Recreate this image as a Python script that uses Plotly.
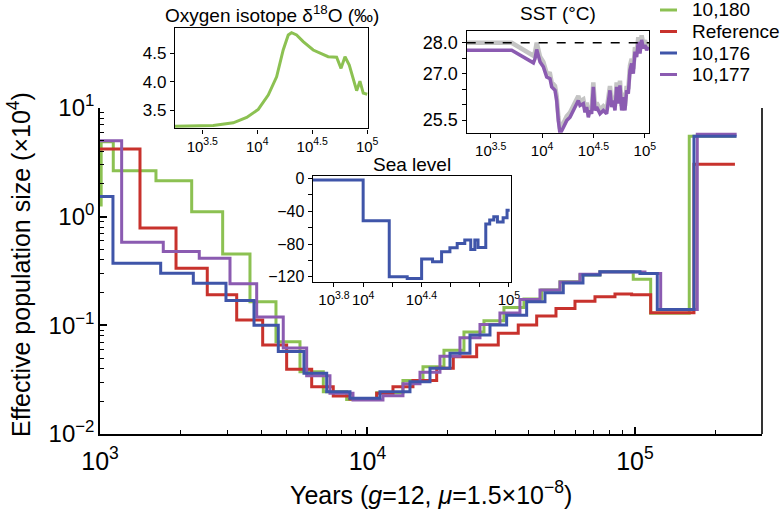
import plotly.graph_objects as go

# ---------------- data ----------------
# main panel: step start times (years) and effective population size (x10^4)
green_t = [900, 1010, 1121, 1619, 2202, 2875, 3637, 4549, 5593, 6837, 8360, 10824, 13572, 16126,
           19320, 22948, 27260, 32374, 38459, 44800, 52443, 62300, 73990, 98540, 114500, 159600, 238600]
green_ne = [1.28, 4.89, 2.64, 2.14, 1.11, 0.453, 0.165, 0.0706, 0.0374, 0.0245, 0.0208, 0.024, 0.031, 0.0415,
            0.059, 0.087, 0.110, 0.146, 0.175, 0.211, 0.252, 0.290, 0.311, 0.265, 0.129, 5.5, 5.5]

red_t = [1000, 1411, 1924, 2518, 3244, 4057, 4987, 6186, 7449, 8601, 10824, 12454, 14793, 18145,
         20934, 25600, 30832, 36617, 42914, 50672, 59677, 70878, 84200, 97170, 114500, 166200, 236500]
red_ne = [4.19, 0.785, 0.336, 0.191, 0.112, 0.066, 0.0394, 0.0272, 0.0224, 0.021, 0.0237, 0.0272, 0.031, 0.0402,
          0.0514, 0.0659, 0.0844, 0.1007, 0.122, 0.143, 0.167, 0.183, 0.194, 0.191, 0.1306, 3.03, 3.03]

blue_t = [1000, 1118, 1686, 2233, 2958, 3765, 4640, 5789, 7040, 8601, 11134, 14417, 17128, 20345,
          24168, 28708, 33136, 39364, 46094, 53951, 63925, 73990, 104400, 121200, 166200, 240000]
blue_ne = [1.53, 0.373, 0.302, 0.244, 0.169, 0.1, 0.0575, 0.0362, 0.0245, 0.0213, 0.0245, 0.0303, 0.0402, 0.0553,
           0.0815, 0.1007, 0.124, 0.165, 0.199, 0.245, 0.290, 0.311, 0.300, 0.140, 5.51, 5.51]

purple_t = [1000, 1205, 1724, 2350, 3062, 3853, 4843, 5925, 7240, 8828, 11425, 13572, 15716, 18666,
            22173, 26340, 31278, 37158, 44154, 52443, 62300, 73990, 109000, 124800, 171000, 240000]
purple_ne = [5.0, 0.58, 0.478, 0.415, 0.241, 0.119, 0.0617, 0.0343, 0.0237, 0.0206, 0.0225, 0.029, 0.037, 0.052,
             0.077, 0.102, 0.13, 0.173, 0.211, 0.250, 0.295, 0.310, 0.300, 0.140, 5.72, 5.72]

series_names = ["10,180", "Reference", "10,176", "10,177"]

# inset: oxygen isotope
oxy_t = [1786, 3981, 6053, 8017, 10210, 12590, 15000, 17220, 19140, 20510, 22800, 26180, 32280, 37150,
         44160, 52720, 57800, 62810, 68700, 80170, 85900, 92000, 100000]
oxy_v = [3.218, 3.23, 3.276, 3.371, 3.512, 3.765, 4.087, 4.558, 4.823, 4.863, 4.823, 4.705, 4.558, 4.511,
         4.44, 4.43, 4.235, 4.44, 4.294, 3.842, 4.01, 3.80, 3.78]

# inset: SST (purple) and grey reference curve
sst_t = [1845, 5058, 8225, 8535, 8853, 9550, 10280, 11075, 11930, 12390, 13350, 13860, 14380, 14940, 16100,
         17340, 18680, 20130, 21690, 22500, 23370, 25180, 26140, 27130, 28160, 29230, 30340, 31490, 32690,
         33930, 36560, 39400, 42450, 45740, 47490, 49290, 51170, 53110, 55130, 57230, 59400, 61660, 64010,
         66440, 68970, 71590, 74310, 77140, 80080, 83120, 86280, 89570, 92970, 96510, 100200, 104000, 107900]
sst_purple = [27.76, 27.76, 27.35, 27.49, 27.78, 27.38, 27.22, 26.89, 26.84, 26.57, 26.46, 26.13, 25.48, 25.05,
              25.26, 25.48, 25.59, 25.81, 26.03, 26.13, 25.97, 26.03, 25.75, 25.92, 25.59, 25.81, 25.70, 26.57,
              25.81, 25.92, 25.70, 25.81, 25.70, 26.46, 25.92, 26.13, 25.81, 26.57, 26.03, 26.62, 25.81, 26.24,
              25.81, 26.46, 26.35, 27.11, 27.33, 27.0, 27.71, 27.54, 28.03, 27.65, 28.09, 27.82, 27.93, 27.76,
              27.87]
sst_grey = [28.0, 28.0, 27.58, 27.7, 28.0, 27.55, 27.38, 27.02, 27.0, 26.72, 26.6, 26.28, 25.62, 25.2,
            25.4, 25.62, 25.74, 25.95, 26.18, 26.28, 26.1, 26.17, 25.9, 26.06, 25.74, 25.95, 25.84, 26.72,
            25.95, 26.06, 25.84, 25.95, 25.84, 26.6, 26.06, 26.28, 25.95, 26.72, 26.17, 26.77, 25.95, 26.38,
            25.95, 26.6, 26.5, 27.26, 27.48, 27.15, 27.86, 27.69, 28.18, 27.8, 28.24, 27.97, 28.08, 27.9,
            28.0]
sst_ref = 28.0

# inset: sea level (m)
sea_t = [4508, 10000, 15100, 20050, 25180, 29920, 34510, 39360, 44160, 49770, 54700, 58340, 61380, 69340,
         73790, 78700, 83370, 91200, 97050, 101150]
sea_v = [-2, -51.7, -120, -122, -98.4, -101.6, -89.5, -84.6, -79.3, -75.2, -86.6, -75.2, -84.2, -55.7,
         -50.8, -46.8, -53, -48, -38.7, -38.7]

# tick labels
main_x_ticks = [1e3, 1e4, 1e5]
main_x_text = ["10<sup>3</sup>", "10<sup>4</sup>", "10<sup>5</sup>"]
main_y_ticks = [0.01, 0.1, 1, 10]
main_y_text = ["10<sup>−2</sup>", "10<sup>−1</sup>", "10<sup>0</sup>", "10<sup>1</sup>"]
main_x_minor = [m * 10 ** e for e in (3, 4, 5) for m in range(2, 10) if m * 10 ** e < 3e5]
main_y_minor = [m * 10.0 ** e for e in (-2, -1, 0) for m in range(2, 10)]
inset_x_ticks = [10 ** 3.5, 1e4, 10 ** 4.5, 1e5]
inset_x_text = ["10<sup>3.5</sup>", "10<sup>4</sup>", "10<sup>4.5</sup>", "10<sup>5</sup>"]
sea_x_ticks = [10 ** 3.8, 1e4, 10 ** 4.2, 10 ** 4.4, 10 ** 4.6, 10 ** 4.8, 1e5]
sea_x_text = ["10<sup>3.8</sup>", "10<sup>4</sup>", "", "10<sup>4.4</sup>", "", "", "10<sup>5</sup>"]

# ---------------- styling ----------------
FONT = "Liberation Sans, Arial, Helvetica, sans-serif"
GREEN = "#8cc152"
RED = "#c8322d"
BLUE = "#3f55a9"
PURPLE = "#8b5bb1"
GREY = "#c4c4c4"
W, H = 781, 518

fig = go.Figure()


def add_line(t, v, color, xa="x", ya="y", width=3.0, shape="hv", name=None):
    fig.add_trace(go.Scatter(
        x=t, y=v, mode="lines", name=name, showlegend=False,
        line=dict(color=color, width=width, shape=shape),
        xaxis=xa, yaxis=ya, hoverinfo="skip"))


# main panel (drawing order green, red, purple, blue)
add_line(green_t, green_ne, GREEN, name=series_names[0])
add_line(red_t, red_ne, RED, name=series_names[1])
add_line(purple_t, purple_ne, PURPLE, name=series_names[3])
add_line(blue_t, blue_ne, BLUE, name=series_names[2])

# insets
add_line(oxy_t, oxy_v, GREEN, xa="x2", ya="y2", width=3.0, shape="linear")
add_line(sst_t, sst_grey, GREY, xa="x3", ya="y3", width=4.5, shape="linear")
add_line(sst_t, sst_purple, PURPLE, xa="x3", ya="y3", width=3.5, shape="linear")
add_line(sea_t, sea_v, BLUE, xa="x4", ya="y4", width=3.0, shape="hv")


def px_dom_x(a, b):
    return [a / W, b / W]


def px_dom_y(top, bottom):
    return [(H - bottom) / H, (H - top) / H]


axis_common = dict(showgrid=False, zeroline=False, showline=True, linecolor="black",
                   tickcolor="black", color="black", automargin=False, tickangle=0)

fig.update_layout(
    width=W, height=H,
    margin=dict(l=0, r=0, t=0, b=0, autoexpand=False),
    paper_bgcolor="white", plot_bgcolor="rgba(0,0,0,0)",
    font=dict(family=FONT, color="black"),
    showlegend=False,
    xaxis=dict(**axis_common, type="log", range=[3, 5.475], domain=px_dom_x(100, 762), anchor="y",
               linewidth=1.6, ticks="inside", ticklen=7, tickwidth=1.5,
               tickmode="array", tickvals=main_x_ticks, ticktext=main_x_text,
               tickfont=dict(size=25), ticklabelstandoff=4,
               minor=dict(ticks="inside", ticklen=4, tickwidth=1.2, tickmode="array",
                          tickvals=main_x_minor, showgrid=False)),
    yaxis=dict(**axis_common, type="log", range=[-2, 1], domain=px_dom_y(108, 434), anchor="x",
               linewidth=1.6, ticks="inside", ticklen=7, tickwidth=1.5,
               tickmode="array", tickvals=main_y_ticks, ticktext=main_y_text,
               tickfont=dict(size=24), ticklabelstandoff=-1,
               minor=dict(ticks="inside", ticklen=4, tickwidth=1.2, tickmode="array",
                          tickvals=main_y_minor, showgrid=False)),
    # oxygen isotope inset
    xaxis2=dict(**axis_common, type="log", range=[3.252, 5.01], domain=px_dom_x(175, 368.3), anchor="y2",
                mirror=True, linewidth=1.4, ticks="outside", ticklen=4, tickwidth=1.2,
                tickmode="array", tickvals=inset_x_ticks, ticktext=inset_x_text, tickfont=dict(size=15)),
    yaxis2=dict(**axis_common, range=[3.18, 4.94], domain=px_dom_y(28.3, 128.3), anchor="x2",
                mirror=True, linewidth=1.4, ticks="outside", ticklen=4, tickwidth=1.2,
                tickmode="array", tickvals=[3.5, 4.0, 4.5], ticktext=["3.5", "4.0", "4.5"],
                tickfont=dict(size=17)),
    # SST inset
    xaxis3=dict(**axis_common, type="log", range=[3.266, 5.043], domain=px_dom_x(466.7, 649.3), anchor="y3",
                mirror=True, linewidth=1.4, ticks="outside", ticklen=4, tickwidth=1.2,
                tickmode="array", tickvals=inset_x_ticks, ticktext=inset_x_text, tickfont=dict(size=15)),
    yaxis3=dict(**axis_common, range=[25.09, 28.38], domain=px_dom_y(31, 132.7), anchor="x3",
                mirror=True, linewidth=1.4, ticks="outside", ticklen=4, tickwidth=1.2,
                tickmode="array", tickvals=[25.5, 26.0, 26.5, 27.0, 27.5, 28.0],
                ticktext=["25.5", "", "", "27.0", "", "28.0"], tickfont=dict(size=18)),
    # sea level inset
    xaxis4=dict(**axis_common, type="log", range=[3.654, 5.012], domain=px_dom_x(312.7, 510.7), anchor="y4",
                mirror=True, linewidth=1.4, ticks="outside", ticklen=4, tickwidth=1.2,
                tickmode="array", tickvals=sea_x_ticks, ticktext=sea_x_text, tickfont=dict(size=15)),
    yaxis4=dict(**axis_common, range=[-126, 3], domain=px_dom_y(176, 281.7), anchor="x4",
                mirror=True, linewidth=1.4, ticks="outside", ticklen=4, tickwidth=1.2,
                tickmode="array", tickvals=[-120, -100, -80, -60, -40, -20, 0],
                ticktext=["−120", "", "−80", "", "−40", "", "0"], tickfont=dict(size=16)),
)

# right spine of the main panel (no top spine)
fig.add_shape(type="line", xref="x domain", yref="y domain", x0=1, x1=1, y0=0, y1=1,
              line=dict(color="black", width=1.6))
# dashed 28 °C reference in SST inset
fig.add_shape(type="line", xref="x3 domain", yref="y3", x0=0, x1=1, y0=sst_ref, y1=sst_ref,
              line=dict(color="black", width=1.5, dash="dash"))

# legend (compact, as in the reference): short line keys + labels
legend_colors = [GREEN, RED, BLUE, PURPLE]
legend_rows_px = [10, 31.5, 53, 74.5]
for name, col, ry in zip(series_names, legend_colors, legend_rows_px):
    yy = (H - ry) / H
    fig.add_shape(type="line", xref="paper", yref="paper", x0=660 / W, x1=677 / W, y0=yy, y1=yy,
                  line=dict(color=col, width=3))
    fig.add_annotation(text=name, xref="paper", yref="paper", x=690 / W, y=yy, showarrow=False,
                       xanchor="left", yanchor="middle", font=dict(size=19))

# titles
fig.add_annotation(text="Effective population size (×10<sup>4</sup>)", textangle=-90,
                   xref="paper", yref="paper", x=19 / W, y=(H - 265) / H, showarrow=False,
                   xanchor="center", yanchor="middle", font=dict(size=25))
fig.add_annotation(text="Years (<i>g</i>=12, <i>μ</i>=1.5×10<sup>−8</sup>)",
                   xref="paper", yref="paper", x=431 / W, y=(H - 493) / H, showarrow=False,
                   xanchor="center", yanchor="middle", font=dict(size=25))
fig.add_annotation(text="Oxygen isotope δ<sup>18</sup>O (‰)", xref="x2 domain", yref="paper",
                   x=0.5, y=(H - 14) / H, showarrow=False, xanchor="center", yanchor="middle",
                   font=dict(size=19))
fig.add_annotation(text="SST (°C)", xref="x3 domain", yref="paper",
                   x=0.5, y=(H - 14) / H, showarrow=False, xanchor="center", yanchor="middle",
                   font=dict(size=19))
fig.add_annotation(text="Sea level", xref="x4 domain", yref="paper",
                   x=0.5, y=(H - 164) / H, showarrow=False, xanchor="center", yanchor="middle",
                   font=dict(size=19))

# the page body gets no default 8px margin, so the figure sits at the window's corner
fig.write_html("out.html", config={"displayModeBar": False},
               post_script="document.body.style.margin='0';")
